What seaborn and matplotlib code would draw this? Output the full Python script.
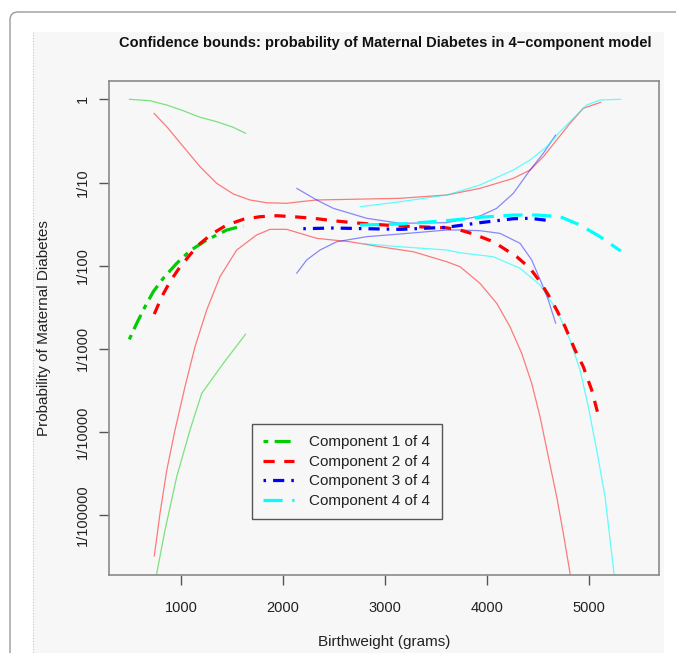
import numpy as np
import pandas as pd
import matplotlib
matplotlib.use("Agg")
import matplotlib.pyplot as plt
from matplotlib.patches import FancyBboxPatch, Rectangle
from matplotlib.lines import Line2D
import seaborn as sns

# ---------------- data (log10 of probability) ----------------
# Component 1 (green)
c1_x = [493, 566, 647, 728, 826, 958, 1088, 1252, 1448, 1611]
c1_y = [-2.885, -2.692, -2.493, -2.312, -2.151, -1.971, -1.820, -1.691, -1.571, -1.519]
c1_up_x = [493, 696, 860, 1022, 1186, 1350, 1513, 1634]
c1_up_y = [0.0, -0.017, -0.069, -0.137, -0.216, -0.269, -0.337, -0.409]
c1_lo_x = [740, 762, 843, 958, 1088, 1203, 1415, 1634]
c1_lo_y = [-6.0, -5.697, -5.177, -4.536, -3.975, -3.534, -3.173, -2.821]

# Component 2 (red)
c2_x = [738, 811, 892, 974, 1072, 1170, 1301, 1448, 1611, 1775, 1938, 2101, 2297,
        2493, 2689, 2853, 3147, 3605, 3735, 3866, 4062, 4291, 4422, 4520, 4601,
        4683, 4765, 4863, 4944, 5026, 5091]
c2_y = [-2.581, -2.373, -2.192, -2.043, -1.892, -1.751, -1.619, -1.511, -1.442,
        -1.411, -1.399, -1.411, -1.430, -1.459, -1.483, -1.499, -1.523, -1.545,
        -1.571, -1.619, -1.712, -1.892, -2.031, -2.192, -2.352, -2.532, -2.733,
        -3.013, -3.214, -3.494, -3.795]
c2_up_x = [735, 860, 1023, 1186, 1350, 1513, 1676, 1840, 2036, 2167, 2330, 2657,
           3147, 3605, 3931, 4258, 4422, 4552, 4683, 4814, 4944, 5115]
c2_up_y = [-0.168, -0.329, -0.570, -0.810, -1.010, -1.138, -1.210, -1.243, -1.250,
           -1.231, -1.210, -1.202, -1.190, -1.150, -1.070, -0.950, -0.850, -0.690,
           -0.489, -0.288, -0.108, -0.036]
c2_lo_x = [738, 794, 860, 941, 1039, 1137, 1252, 1382, 1546, 1742, 1873, 2036, 2167,
           2330, 2657, 2950, 3278, 3605, 3735, 3931, 4095, 4225, 4340, 4438, 4520,
           4601, 4683, 4748, 4814, 4840]
c2_lo_y = [-5.489, -4.976, -4.460, -3.975, -3.454, -2.974, -2.532, -2.132, -1.811,
           -1.630, -1.563, -1.563, -1.611, -1.671, -1.712, -1.772, -1.832, -1.952,
           -2.012, -2.212, -2.452, -2.733, -3.053, -3.413, -3.815, -4.296, -4.776,
           -5.216, -5.697, -5.95]

# Component 3 (blue)
c3_x = [2199, 2493, 2820, 3147, 3605, 3931, 4258, 4422, 4618]
c3_y = [-1.555, -1.547, -1.555, -1.563, -1.538, -1.483, -1.435, -1.430, -1.459]
c3_up_x = [2134, 2330, 2493, 2657, 2820, 3147, 3605, 3931, 4095, 4258, 4422, 4552, 4673]
c3_up_y = [-1.070, -1.210, -1.310, -1.370, -1.430, -1.490, -1.483, -1.403, -1.310,
           -1.130, -0.850, -0.649, -0.429]
c3_lo_x = [2134, 2232, 2363, 2526, 2820, 3147, 3605, 3735, 3931, 4127, 4324, 4438,
           4536, 4601, 4673]
c3_lo_y = [-2.091, -1.931, -1.811, -1.712, -1.651, -1.619, -1.571, -1.571, -1.579,
           -1.611, -1.731, -1.931, -2.212, -2.413, -2.692]

# Component 4 (cyan)
c4_x = [2755, 3147, 3605, 3931, 4258, 4487, 4716, 4912, 5108, 5311]
c4_y = [-1.511, -1.499, -1.459, -1.418, -1.391, -1.391, -1.411, -1.511, -1.651, -1.823]
c4_up_x = [2755, 3147, 3605, 3931, 4258, 4422, 4585, 4716, 4846, 4977, 5108, 5311]
c4_up_y = [-1.291, -1.231, -1.150, -1.030, -0.850, -0.730, -0.570, -0.389, -0.228,
           -0.069, -0.008, 0.0]
c4_lo_x = [2755, 3147, 3605, 3735, 4062, 4324, 4520, 4683, 4814, 4912, 4993, 5075,
           5157, 5245, 5280]
c4_lo_y = [-1.731, -1.772, -1.811, -1.844, -1.892, -2.031, -2.232, -2.532, -2.893,
           -3.254, -3.695, -4.215, -4.776, -5.697, -6.1]

labels = ["Component 1 of 4", "Component 2 of 4", "Component 3 of 4", "Component 4 of 4"]
ytick_vals = [1, 1e-1, 1e-2, 1e-3, 1e-4, 1e-5]
ytick_labels = ["1", "1/10", "1/100", "1/1000", "1/10000", "1/100000"]
xtick_vals = [1000, 2000, 3000, 4000, 5000]

# ---------------- styling ----------------
sns.set_style("white")
plt.rcParams["font.family"] = ["Liberation Sans", "DejaVu Sans"]

W, H = 676, 653
fig = plt.figure(figsize=(W / 100, H / 100), dpi=100)
fig.patch.set_facecolor("white")

def fx(px):
    return px / W

def fy(py):
    return 1 - py / H

# screenshot frame
frame = FancyBboxPatch((fx(10), fy(700)), fx(700), fy(12) - fy(700),
                       boxstyle="round,pad=0,rounding_size=0.012",
                       transform=fig.transFigure, facecolor="white",
                       edgecolor="#9a9a9a", linewidth=1.0, zorder=-3)
fig.patches.append(frame)
panel = Rectangle((fx(33), 0), fx(664) - fx(33), fy(32), transform=fig.transFigure,
                  facecolor="#f7f7f7", edgecolor="none", zorder=-2)
fig.patches.append(panel)
fig.lines.append(Line2D([fx(33), fx(33)], [fy(32), 0], transform=fig.transFigure,
                        color="#c8c8c8", linewidth=0.8, linestyle=(0, (1, 1.5)),
                        zorder=-1))

ax = fig.add_axes([fx(109), fy(575), fx(659) - fx(109), fy(81) - fy(575)])
ax.set_zorder(1)
ax.set_facecolor("#f7f7f7")

cols = ["#00CD00", "#FF0000", "#0000FF", "#00FFFF"]
dash_styles = [(0, (1.5, 2, 5, 2)), (0, (3.5, 3)), (0, (0.8, 2.2, 3.5, 2.2)), (0, (6, 3))]
centers = [(c1_x, c1_y), (c2_x, c2_y), (c3_x, c3_y), (c4_x, c4_y)]
uppers = [(c1_up_x, c1_up_y), (c2_up_x, c2_up_y), (c3_up_x, c3_up_y), (c4_up_x, c4_up_y)]
lowers = [(c1_lo_x, c1_lo_y), (c2_lo_x, c2_lo_y), (c3_lo_x, c3_lo_y), (c4_lo_x, c4_lo_y)]
band_alpha = [0.5, 0.5, 0.45, 0.6]

for i in range(4):
    for (bx, by) in (uppers[i], lowers[i]):
        df = pd.DataFrame({"x": bx, "p": 10 ** np.array(by)})
        sns.lineplot(data=df, x="x", y="p", ax=ax, color=cols[i], linewidth=0.9,
                     alpha=band_alpha[i], estimator=None, errorbar=None, sort=True)

for i in range(4):
    cx, cy = centers[i]
    df = pd.DataFrame({"x": cx, "p": 10 ** np.array(cy)})
    sns.lineplot(data=df, x="x", y="p", ax=ax, color=cols[i], linewidth=2.3,
                 linestyle=dash_styles[i], estimator=None, errorbar=None, sort=True,
                 label=labels[i])

ax.set_yscale("log")
ax.set_xlim(294, 5686)
ax.set_ylim(10 ** -5.717, 10 ** 0.22)
ax.set_yticks(ytick_vals)
ax.set_yticklabels(ytick_labels, rotation=90, va="center")
ax.yaxis.set_minor_locator(matplotlib.ticker.NullLocator())
ax.set_xticks(xtick_vals)
ax.set_xticklabels([str(v) for v in xtick_vals])

for s in ax.spines.values():
    s.set_color("#8a8a8a")
    s.set_linewidth(1.2)
ax.tick_params(axis="both", which="major", length=7, width=1, color="#555555",
               labelsize=10.5, labelcolor="#222222", left=True, bottom=True)
ax.tick_params(axis="y", pad=7)
ax.tick_params(axis="x", pad=12)

ax.set_xlabel("Birthweight (grams)", fontsize=11, color="#222222", labelpad=14)
ax.set_ylabel("Probability of Maternal Diabetes", fontsize=11, color="#222222", labelpad=18)

fig.text(fx(385), fy(43), "Confidence bounds: probability of Maternal Diabetes in 4\u2212component model",
         ha="center", va="center", fontsize=10.5, fontweight="bold", color="#111111")

leg = ax.legend(loc="upper left", bbox_to_anchor=((252 - 109) / 550, (575 - 424) / 494),
                borderaxespad=0, fontsize=11, frameon=True, fancybox=False,
                handlelength=2.0, handletextpad=1.0, labelspacing=0.36, borderpad=0.75)
frame_l = leg.get_frame()
frame_l.set_edgecolor("#555555")
frame_l.set_facecolor("#f7f7f7")
frame_l.set_linewidth(1.0)
frame_l.set_alpha(1)
for t in leg.get_texts():
    t.set_color("#222222")

fig.savefig("out.png", dpi=100, facecolor=fig.get_facecolor())
